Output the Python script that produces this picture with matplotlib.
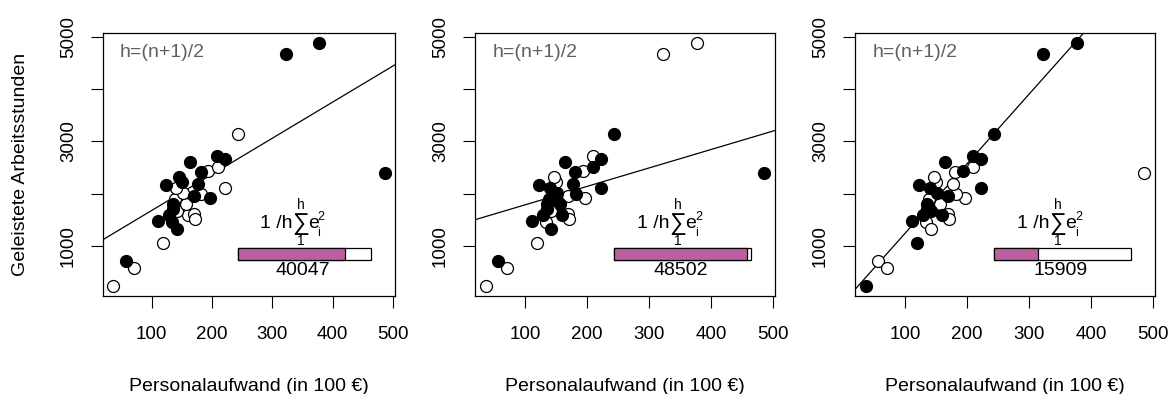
import matplotlib.pyplot as plt

plt.rcParams['font.family'] = ['Liberation Sans', 'DejaVu Sans']

# Personalaufwand (in 100 EUR) und geleistete Arbeitsstunden
aufwand = [36.6, 57, 71.5, 118.8, 111, 134, 142, 128.6, 160, 170, 171, 141.5,
           136, 157, 138, 196, 170, 182, 152, 140, 222, 123, 177, 150, 146,
           181, 194, 210, 164, 209, 222, 243.5, 323, 377, 486, 136]
stunden = [222, 700, 585, 1052, 1478, 1446, 1319, 1587, 1587, 1612, 1510, 1660,
           1803, 1800, 1898, 1911, 1956, 1994, 2019, 2096, 2115, 2166, 2185, 2217, 2313,
           2415, 2440, 2500, 2612, 2708, 2657, 3135, 4665, 4877, 2400, 1700]

# Teilmengen (1 = in der Teilmenge, gefuellter Punkt)
subset_a = [0, 1, 0, 0, 1, 1, 1, 1, 0, 0, 0, 0,
            1, 0, 0, 1, 1, 0, 0, 0, 0, 1, 1, 1, 1,
            1, 0, 0, 1, 1, 1, 0, 1, 1, 1, 1]
subset_b = [0, 1, 0, 0, 1, 0, 1, 1, 1, 0, 0, 0,
            1, 1, 1, 0, 0, 1, 1, 1, 1, 1, 1, 0, 0,
            1, 0, 1, 1, 0, 1, 1, 0, 0, 1, 1]
subset_c = [1, 0, 0, 1, 1, 0, 0, 1, 1, 0, 0, 1,
            1, 0, 0, 0, 1, 0, 1, 1, 1, 1, 0, 0, 0,
            0, 1, 0, 1, 1, 1, 1, 1, 1, 0, 1]

fit_intercept = [984, 1430, -93]
fit_slope = [6.915, 3.53, 13.31]
mse = [40047, 48502, 15909]
mse_max = 50000

subsets = [subset_a, subset_b, subset_c]

W, H = 1176, 394
fig = plt.figure(figsize=(W / 100, H / 100), dpi=100)
boxes = [(102.7, 395.0), (474.7, 775.0), (854.7, 1155.0)]
top_px, bot_px = 33.3, 296.0

bar_left, bar_right = 243.5, 464.0
bar_y, bar_h = 850, 235
bar_mid = (bar_left + bar_right) / 2
magenta = '#BC5FA0'


def piece(ax, s, y_anchor, dx, dy, size, ha='left', va='baseline'):
    ax.annotate(s, xy=(bar_mid, y_anchor), xycoords='data', xytext=(dx, dy),
                textcoords='offset pixels', fontsize=size, ha=ha, va=va, zorder=6)


for k in range(3):
    l, r = boxes[k]
    ax = fig.add_axes([l / W, (H - bot_px) / H, (r - l) / W, (bot_px - top_px) / H])
    sub = subsets[k]
    fx = [x for x, s in zip(aufwand, sub) if s]
    fy = [y for y, s in zip(stunden, sub) if s]
    ox = [x for x, s in zip(aufwand, sub) if not s]
    oy = [y for y, s in zip(stunden, sub) if not s]
    ax.plot(ox, oy, 'o', ms=8.6, mfc='white', mec='black', mew=0.9, zorder=3)
    ax.plot(fx, fy, 'o', ms=8.6, mfc='black', mec='black', mew=0.9, zorder=3)
    ax.axline((0, fit_intercept[k]), slope=fit_slope[k], color='black', lw=0.9, zorder=2)

    ax.set_xlim(18.9, 503)
    ax.set_ylim(40, 5064)
    ax.set_xticks([100, 200, 300, 400, 500])
    ax.set_yticks([1000, 2000, 3000, 4000, 5000])
    ax.set_yticklabels(['1000', '', '3000', '', '5000'], rotation=90, va='center')
    ax.tick_params(axis='both', direction='out', length=8.6, width=0.8,
                   labelsize=13.5, color='black')
    ax.tick_params(axis='x', pad=13)
    ax.tick_params(axis='y', pad=10)
    for sp in ax.spines.values():
        sp.set_linewidth(0.9)

    ax.text(47.5, 4696, 'h=(n+1)/2', color='#606060', fontsize=14, ha='left', va='center')

    span = bar_right - bar_left
    ax.barh(bar_y, span, left=bar_left, height=bar_h, color='white',
            edgecolor='black', linewidth=0.9, zorder=4)
    ax.barh(bar_y, span * mse[k] / mse_max, left=bar_left, height=bar_h,
            color=magenta, edgecolor='black', linewidth=0.9, zorder=5)

    # 1/h sum_1^h e_i^2 above the bar
    top = bar_y + bar_h / 2
    bottom = bar_y - bar_h / 2
    piece(ax, '1 /h', top, -12.5, 19.5, 14, ha='right')
    piece(ax, '\u2211', top, -4.5, 24, 17, ha='center', va='center')
    piece(ax, 'h', top, -4.5, 42.5, 10, ha='center', va='center')
    piece(ax, '1', top, -4.5, 7, 10, ha='center', va='center')
    piece(ax, 'e', top, 3, 19.5, 14)
    piece(ax, '2', top, 12.5, 31, 9, va='center')
    piece(ax, 'i', top, 12.5, 14.5, 9, va='center')
    # value below the bar
    piece(ax, str(mse[k]), bottom, -2, -15, 14, ha='center')

    ax.set_xlabel('Personalaufwand (in 100 €)', fontsize=14)
    ax.xaxis.label.set_va('center')
    ax.xaxis.set_label_coords(0.5, (bot_px - 386.7) / (bot_px - top_px))
    if k == 0:
        ax.set_ylabel('Geleistete Arbeitsstunden', fontsize=14)
        ax.yaxis.label.set_va('center')
        ax.yaxis.set_label_coords((20 - l) / (r - l), 0.5)

fig.savefig('out.png', dpi=100)
